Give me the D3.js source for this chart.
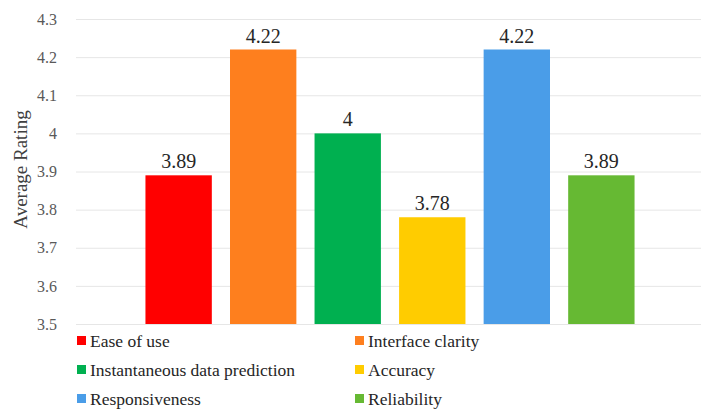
<!DOCTYPE html>
<html>
<head>
<meta charset="utf-8">
<script src="https://cdn.jsdelivr.net/npm/d3@7"></script>
<style>
  html, body { margin: 0; padding: 0; background: #fff; }
  svg { display: block; }
  svg text { font-family: "Liberation Serif", "Times New Roman", Tinos, "DejaVu Serif", serif; }
</style>
</head>
<body>
<svg id="chart" width="703" height="409"></svg>
<script>
// Survey criteria and their average ratings
const criteria = ["Ease of use", "Interface clarity", "Instantaneous data prediction", "Accuracy", "Responsiveness", "Reliability"];
const ratings = [3.89, 4.22, 4.00, 3.78, 4.22, 3.89];
const ratingLabels = ["3.89", "4.22", "4", "3.78", "4.22", "3.89"];
const colors = ["#FF0000", "#FE7F1E", "#00B050", "#FFCC00", "#4A9DE8", "#66B933"];
const yTicks = [3.5, 3.6, 3.7, 3.8, 3.9, 4.0, 4.1, 4.2, 4.3];
const yTickLabels = ["3.5", "3.6", "3.7", "3.8", "3.9", "4", "4.1", "4.2", "4.3"];

const svg = d3.select("#chart");

const plot = { left: 76, right: 701, top: 19, bottom: 324 };

const y = d3.scaleLinear().domain([3.5, 4.3]).range([plot.bottom, plot.top]);
const x = d3.scaleBand()
  .domain(criteria)
  .range([137, 643])
  .paddingInner(0.215)
  .paddingOuter(0.1);

// gridlines and tick labels
const yAxis = d3.axisLeft(y)
  .tickValues(yTicks)
  .tickSize(-(plot.right - plot.left))
  .tickPadding(19)
  .tickFormat((d, i) => yTickLabels[i]);

const gAxis = svg.append("g")
  .attr("transform", `translate(${plot.left},0)`)
  .call(yAxis);
gAxis.attr("font-family", null).attr("font-size", null);
gAxis.select(".domain").remove();
gAxis.selectAll(".tick line").attr("stroke", "#e6e6e6").attr("stroke-width", 1);
gAxis.selectAll(".tick text")
  .attr("fill", "#595959")
  .style("font-size", "16px");

// axis title
svg.append("text")
  .attr("transform", `translate(27,${(plot.top + plot.bottom) / 2 - 2}) rotate(-90)`)
  .attr("text-anchor", "middle")
  .attr("fill", "#404040")
  .style("font-size", "19px")
  .text("Average Rating");

// bars
svg.append("g").selectAll("rect")
  .data(criteria)
  .join("rect")
  .attr("x", d => x(d))
  .attr("width", x.bandwidth())
  .attr("y", (d, i) => y(ratings[i]))
  .attr("height", (d, i) => y(3.5) - y(ratings[i]))
  .attr("fill", (d, i) => colors[i]);

// value labels
svg.append("g").selectAll("text")
  .data(criteria)
  .join("text")
  .attr("x", d => x(d) + x.bandwidth() / 2)
  .attr("y", (d, i) => y(ratings[i]) - 7)
  .attr("text-anchor", "middle")
  .attr("fill", "#262626")
  .style("font-size", "20px")
  .text((d, i) => ratingLabels[i]);

// legend, two columns
const legend = svg.append("g");
const colX = [77, 355];
const rowY = [341, 370, 399];
criteria.forEach((c, i) => {
  const lx = colX[i % 2];
  const ly = rowY[Math.floor(i / 2)];
  legend.append("rect")
    .attr("x", lx)
    .attr("y", ly - 5)
    .attr("width", 9)
    .attr("height", 9)
    .attr("fill", colors[i]);
  legend.append("text")
    .attr("x", lx + 13)
    .attr("y", ly + 6)
    .attr("fill", "#262626")
    .style("font-size", "17.5px")
    .text(c);
});
</script>
</body>
</html>
